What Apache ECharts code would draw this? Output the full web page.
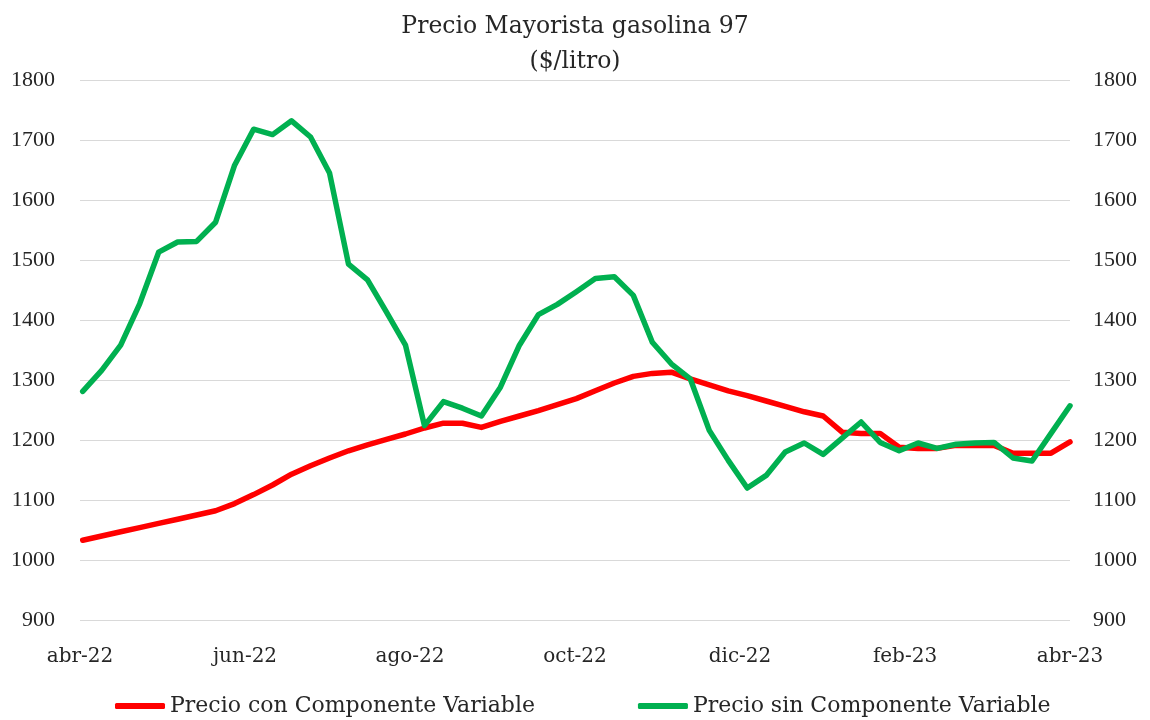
<!DOCTYPE html>
<html>
<head>
<meta charset="utf-8">
<title>Precio Mayorista gasolina 97</title>
<script src="https://cdn.jsdelivr.net/npm/echarts@6/dist/echarts.min.js"></script>
<style>
    html, body { margin: 0; padding: 0; background: #fff; }
    #chart { width: 1150px; height: 720px; }
</style>
</head>
<body>
<div id="chart"></div>
<script>
    // semanas (sábados) abr-22 a abr-23
    var weeks = [
        '2022-04-02', '2022-04-09', '2022-04-16', '2022-04-23', '2022-04-30',
        '2022-05-07', '2022-05-14', '2022-05-21', '2022-05-28',
        '2022-06-04', '2022-06-11', '2022-06-18', '2022-06-25',
        '2022-07-02', '2022-07-09', '2022-07-16', '2022-07-23', '2022-07-30',
        '2022-08-06', '2022-08-13', '2022-08-20', '2022-08-27',
        '2022-09-03', '2022-09-10', '2022-09-17', '2022-09-24',
        '2022-10-01', '2022-10-08', '2022-10-15', '2022-10-22', '2022-10-29',
        '2022-11-05', '2022-11-12', '2022-11-19', '2022-11-26',
        '2022-12-03', '2022-12-10', '2022-12-17', '2022-12-24', '2022-12-31',
        '2023-01-07', '2023-01-14', '2023-01-21', '2023-01-28',
        '2023-02-04', '2023-02-11', '2023-02-18', '2023-02-25',
        '2023-03-04', '2023-03-11', '2023-03-18', '2023-03-25', '2023-04-01'
    ];

    var conComponente = [
        1033, 1040, 1047, 1054, 1061, 1068, 1075, 1082, 1094,
        1109, 1125, 1143, 1157, 1170, 1182, 1192, 1201, 1210,
        1220, 1228, 1228, 1221, 1231, 1240, 1249, 1259, 1269,
        1282, 1295, 1306, 1311, 1313, 1302, 1292, 1282, 1274,
        1265, 1256, 1247, 1240, 1213, 1211, 1211, 1188, 1186,
        1186, 1191, 1191, 1191, 1178, 1178, 1178, 1197
    ];

    var sinComponente = [
        1281, 1316, 1358, 1427, 1513, 1530, 1531, 1563, 1658,
        1718, 1709, 1732, 1705, 1645, 1493, 1467, 1413, 1358,
        1224, 1264, 1253, 1240, 1288, 1358, 1409, 1426, 1447,
        1469, 1472, 1441, 1363, 1327, 1302, 1216, 1166, 1120,
        1141, 1180, 1195, 1176, 1203, 1230, 1196, 1182, 1195,
        1186, 1193, 1195, 1196, 1170, 1165, 1211, 1257
    ];

    var monthLabels = ['abr-22', 'jun-22', 'ago-22', 'oct-22', 'dic-22', 'feb-23', 'abr-23'];

    var textFont = 'DejaVu Serif';
    var numFont = 'Liberation Serif';
    var textColor = '#262626';

    function pairs(values) {
        return weeks.map(function (d, i) { return [d, values[i]]; });
    }

    var yAxisBase = {
        type: 'value',
        min: 900,
        max: 1800,
        interval: 100,
        axisLine: { show: false },
        axisTick: { show: false },
        axisLabel: {
            fontFamily: numFont,
            fontSize: 22,
            color: textColor,
            formatter: function (v) { return String(v); }
        }
    };

    var myChart = echarts.init(document.getElementById('chart'));
    myChart.setOption({
        animation: false,
        backgroundColor: '#fff',
        title: {
            text: 'Precio Mayorista gasolina 97\n($/litro)',
            left: 'center',
            top: 4,
            textStyle: {
                fontFamily: textFont,
                fontWeight: 'normal',
                fontSize: 23.5,
                lineHeight: 35,
                color: textColor
            }
        },
        grid: { left: 80, right: 80, top: 80, bottom: 100 },
        legend: {
            left: 110,
            top: 690,
            itemWidth: 50,
            itemHeight: 6,
            itemGap: 103,
            icon: 'roundRect',
            textStyle: { fontFamily: textFont, fontSize: 22, color: textColor },
            data: ['Precio con Componente Variable', 'Precio sin Componente Variable']
        },
        xAxis: [
            {
                // eje de datos (fechas), oculto
                type: 'time',
                min: '2022-04-01',
                max: '2023-04-01',
                show: false
            },
            {
                // eje de rótulos cada dos meses
                type: 'category',
                position: 'bottom',
                boundaryGap: false,
                data: monthLabels,
                axisLine: { show: false },
                axisTick: { show: false },
                splitLine: { show: false },
                axisLabel: { fontFamily: textFont, fontSize: 20, color: textColor, margin: 27 }
            }
        ],
        yAxis: [
            Object.assign({}, yAxisBase, {
                position: 'left',
                splitLine: { show: true, lineStyle: { color: '#d9d9d9', width: 1 } },
                axisLabel: Object.assign({}, yAxisBase.axisLabel, { margin: 25 })
            }),
            Object.assign({}, yAxisBase, {
                position: 'right',
                splitLine: { show: false },
                axisLabel: Object.assign({}, yAxisBase.axisLabel, { margin: 23 })
            })
        ],
        series: [
            {
                name: 'Precio con Componente Variable',
                type: 'line',
                xAxisIndex: 0,
                yAxisIndex: 0,
                showSymbol: false,
                color: '#ff0000',
                lineStyle: { width: 5.5, color: '#ff0000', cap: 'round', join: 'round' },
                data: pairs(conComponente)
            },
            {
                name: 'Precio sin Componente Variable',
                type: 'line',
                xAxisIndex: 0,
                yAxisIndex: 0,
                showSymbol: false,
                color: '#00b050',
                lineStyle: { width: 5.5, color: '#00b050', cap: 'round', join: 'round' },
                data: pairs(sinComponente)
            }
        ]
    });
</script>
</body>
</html>
